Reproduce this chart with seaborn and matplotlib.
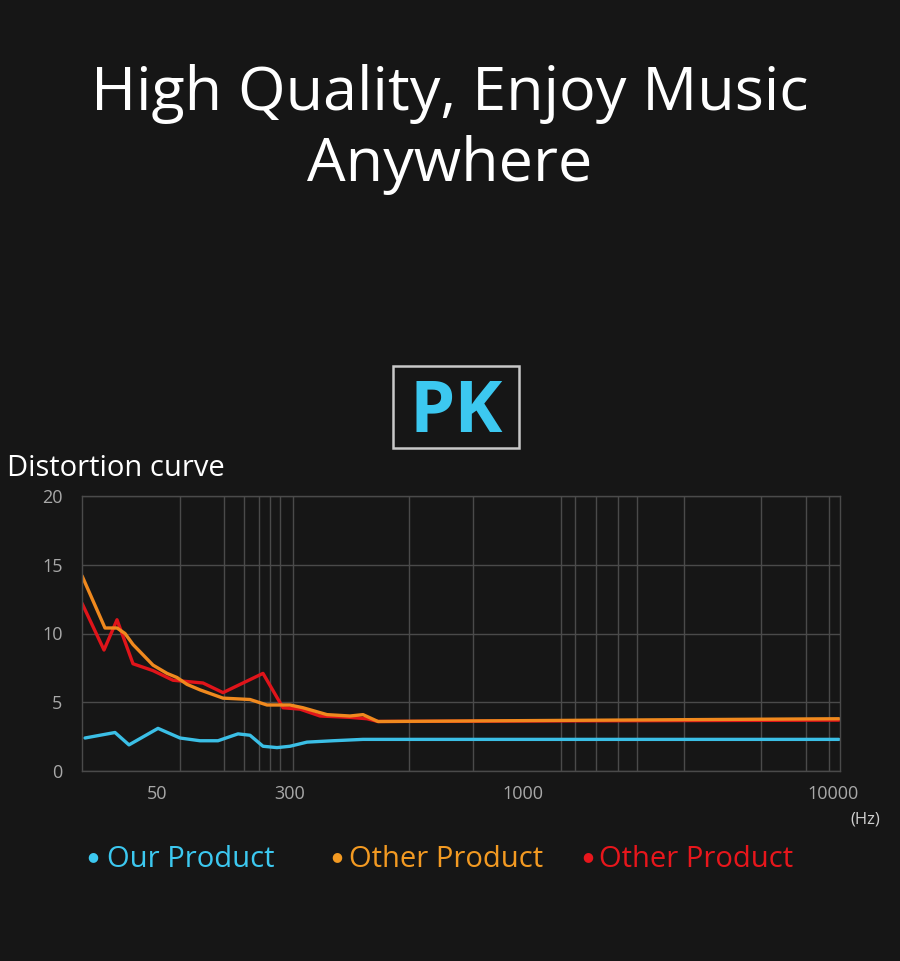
import matplotlib
matplotlib.use("Agg")
import matplotlib.pyplot as plt
from matplotlib.patches import Rectangle
import pandas as pd
import seaborn as sns

# Distortion curves, x is position along the (non-uniform) frequency axis
our_x = [3, 33, 47, 76, 98, 118, 136, 156, 168, 181, 195, 208, 225, 251, 281, 368, 757]
our_y = [2.4, 2.8, 1.9, 3.1, 2.4, 2.2, 2.2, 2.7, 2.6, 1.8, 1.7, 1.8, 2.1, 2.2, 2.3, 2.3, 2.3]

orange_x = [0, 23, 35, 43, 51, 71, 85, 95, 105, 118, 141, 168, 185, 208, 221, 245, 268, 281, 296, 757]
orange_y = [14.2, 10.4, 10.4, 10.0, 9.2, 7.7, 7.1, 6.8, 6.3, 5.9, 5.3, 5.2, 4.8, 4.8, 4.6, 4.1, 4.0, 4.1, 3.6, 3.8]

red_x = [0, 22, 35, 51, 71, 91, 121, 141, 181, 201, 218, 238, 268, 285, 296, 757]
red_y = [12.2, 8.8, 11.0, 7.8, 7.3, 6.6, 6.4, 5.7, 7.1, 4.6, 4.5, 4.0, 3.9, 3.8, 3.6, 3.7]

tick_pos = [75, 208, 441, 751]
tick_labels = ["50", "300", "1000", "10000"]
grid_pos = [75, 98, 142, 162, 177, 188, 198, 211, 327, 391, 441, 479, 493,
            514, 536, 555, 602, 679, 724, 747]

series_names = ["Our Product", "Other Product", "Other Product "]
series_colors = ["#3bbfe6", "#f0891e", "#e0141a"]
legend_colors = ["#3cc8f0", "#f39a22", "#e8161c"]

bg = "#161616"
sns.set_theme(style="dark", rc={"figure.facecolor": bg, "axes.facecolor": bg,
                                "savefig.facecolor": bg})
plt.rcParams["font.family"] = ["Open Sans", "DejaVu Sans"]

df = pd.concat([
    pd.DataFrame({"x": our_x, "y": our_y, "s": series_names[0]}),
    pd.DataFrame({"x": orange_x, "y": orange_y, "s": series_names[1]}),
    pd.DataFrame({"x": red_x, "y": red_y, "s": series_names[2]}),
])

fig = plt.figure(figsize=(9, 9.61), dpi=100)
ax = fig.add_axes([82 / 900, 1 - 771 / 961, 758 / 900, 275 / 961])

# red drawn first so orange sits on top like the reference
for name, col in [(series_names[2], series_colors[2]), (series_names[1], series_colors[1]),
                  (series_names[0], series_colors[0])]:
    sns.lineplot(data=df[df["s"] == name], x="x", y="y", color=col, lw=2.4,
                 ax=ax, legend=False, sort=False)

ax.set_xlim(0, 758)
ax.set_ylim(0, 20)
ax.set_xticks(tick_pos)
ax.set_xticklabels(tick_labels)
ax.set_xticks(grid_pos, minor=True)
ax.set_yticks([0, 5, 10, 15, 20])
ax.grid(False)
ax.grid(True, which="minor", axis="x", color="#4a4a4a", lw=1)
ax.grid(True, which="major", axis="y", color="#4a4a4a", lw=1)
ax.tick_params(axis="both", which="both", length=0, colors="#a8a8a8", labelsize=13)
ax.tick_params(axis="y", pad=14)
ax.tick_params(axis="x", pad=10)
ax.set_xlabel("")
ax.set_ylabel("")
for sp in ax.spines.values():
    sp.set_color("#4a4a4a")
    sp.set_linewidth(1)

# texts
fig.text(0.5, 1 - 110 / 961, "High Quality, Enjoy Music", color="white",
         fontsize=44, ha="center", va="baseline")
fig.text(0.5, 1 - 181 / 961, "Anywhere", color="white",
         fontsize=44, ha="center", va="baseline")

fig.patches.append(Rectangle((393 / 900, 1 - 448 / 961), 126 / 900, 82 / 961,
                             transform=fig.transFigure, fill=False,
                             edgecolor="#c8c8c8", lw=1.8))
fig.text(456 / 900, 1 - 432 / 961, "PK", color="#3cc8f0", fontsize=52,
         fontweight="bold", ha="center", va="baseline")

fig.text(7 / 900, 1 - 476 / 961, "Distortion curve", color="white",
         fontsize=21, ha="left", va="baseline")
fig.text(880 / 900, 1 - 824 / 961, "(Hz)", color="#cfcfcf",
         fontsize=12, ha="right", va="baseline")

for dot_x, txt_x, name, col in zip([93, 337, 588], [107, 349, 599],
                                   series_names, legend_colors):
    fig.text(dot_x / 900, 1 - 857 / 961, "\u25cf", color=col, fontsize=9,
             family="DejaVu Sans", ha="center", va="center")
    fig.text(txt_x / 900, 1 - 867 / 961, name.strip(), color=col,
             fontsize=21, ha="left", va="baseline")

fig.savefig("out.png", dpi=100)
